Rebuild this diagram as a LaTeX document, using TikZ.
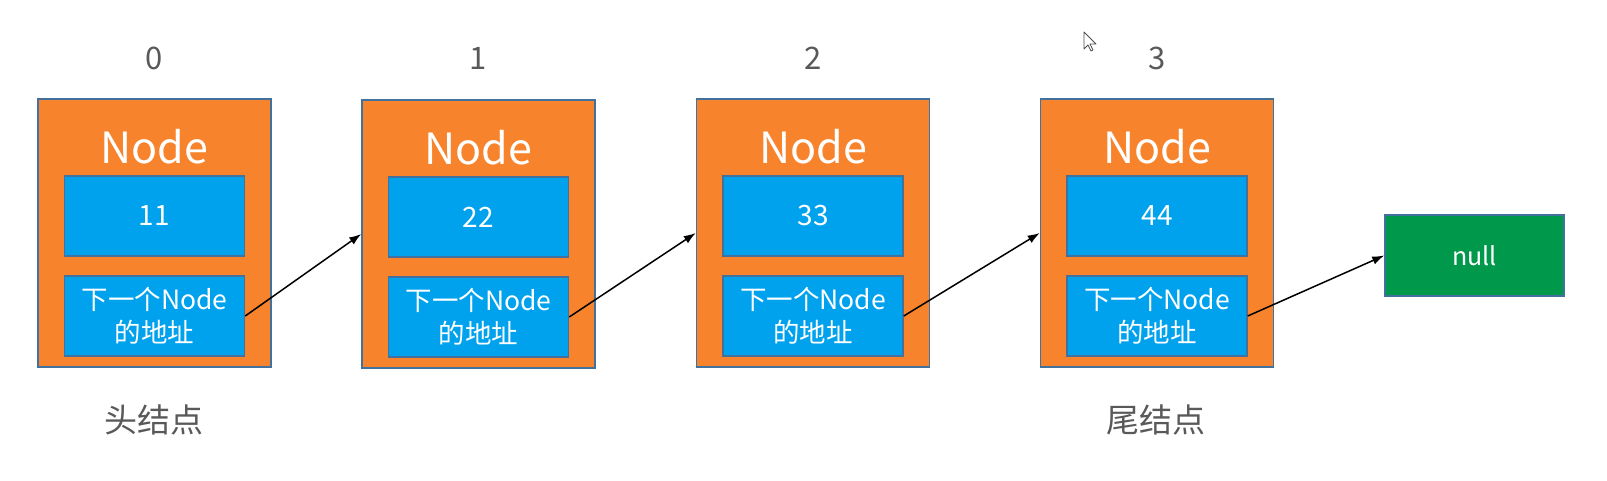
\documentclass[tikz,border=0pt]{standalone}
\usepackage{fontspec}
\setmainfont{Noto Sans CJK SC}
\usetikzlibrary{arrows.meta}
\definecolor{boxorange}{HTML}{F7842C}
\definecolor{boxline}{HTML}{41719C}
\definecolor{boxblue}{HTML}{00A2EE}
\definecolor{boxgreen}{HTML}{00994C}
\definecolor{labelgray}{HTML}{595959}
\tikzset{
  outerbox/.style={draw=boxline, line width=1.5pt, fill=boxorange, minimum width=233pt, minimum height=268pt, inner sep=0pt},
  innerbox/.style={draw=boxline, line width=1.5pt, fill=boxblue, minimum width=180pt, minimum height=80pt, inner sep=0pt, text=white, align=center},
  nullbox/.style={draw=boxline, line width=1.5pt, fill=boxgreen, minimum width=179pt, minimum height=81pt, inner sep=0pt, text=white, font=\fontsize{25}{28}\selectfont},
  titletext/.style={text=white, font=\fontsize{43}{48}\selectfont, inner sep=0pt},
  valtext/.style={font=\fontsize{28}{32}\selectfont},
  addrtext/.style={font=\fontsize{26.5}{32}\selectfont},
  idxlabel/.style={text=labelgray, font=\fontsize{31}{34}\selectfont, inner sep=0pt},
  rolelabel/.style={text=labelgray, font=\fontsize{33}{36}\selectfont, inner sep=0pt},
  link/.style={draw=black, line width=1.5pt, -{Latex[length=12pt,width=8.5pt]}}
}
\begin{document}
\begin{tikzpicture}[x=1pt,y=-1pt]
\useasboundingbox (0,0) rectangle (1607,481);
\foreach \i/\x/\y/\v in {0/154.5/233/11, 1/478.5/234/22, 2/813/233/33, 3/1157/233/44} {
  \node[outerbox] (b\i) at (\x,\y) {};
  \node[titletext] (t\i) at (\x,\y-86) {Node};
  \node[innerbox, valtext] (v\i) at (\x,\y-17) {\v};
  \node[innerbox, addrtext] (n\i) at (\x,\y+83) {下一个Node\\[1pt]的地址};
  \node[idxlabel] (l\i) at (\x,58) {\i};
}
\node[nullbox] (null) at (1474.5,255.5) {null};
\node[rolelabel] (head) at (154,420) {头结点};
\node[rolelabel] (tail) at (1156,420) {尾结点};
\draw[link] (n0.east) -- (b1.west);
\draw[link] (n1.east) -- (b2.west);
\draw[link] (n2.east) -- (b3.west);
\draw[link] (n3.east) -- (null.west);
% mouse cursor
\draw[fill=white, draw=black!70, line width=0.8pt, line join=round]
  (1084,32) -- (1084,49) -- (1088,45) -- (1091,51) -- (1093,50) -- (1090,44) -- (1096,44) -- cycle;
\end{tikzpicture}
\end{document}
